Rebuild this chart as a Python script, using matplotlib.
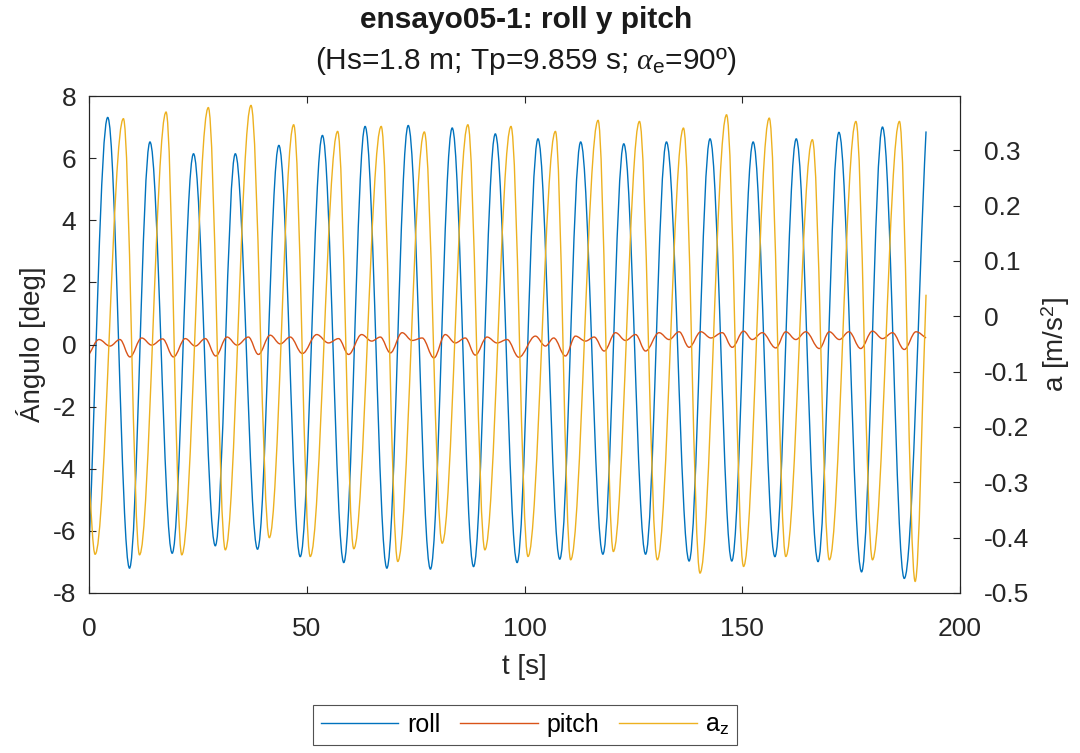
import matplotlib.pyplot as plt
from matplotlib.path import Path
from matplotlib.patches import PathPatch
from matplotlib.lines import Line2D

plt.rcParams['font.family'] = ['Liberation Sans', 'DejaVu Sans']
plt.rcParams['mathtext.fontset'] = 'custom'
plt.rcParams['mathtext.rm'] = 'Liberation Sans'
plt.rcParams['mathtext.it'] = 'Liberation Serif:italic'
plt.rcParams['axes.unicode_minus'] = False

# roll: turning points (t [s], deg)
roll_t = [0, 4.3, 9.3, 14.0, 19.1, 24.0, 29.0, 33.6, 38.7, 43.6,
          48.5, 53.6, 58.5, 63.4, 68.4, 73.3, 78.4, 83.4, 88.3, 93.3,
          98.3, 103.1, 108.1, 112.9, 118.0, 122.8, 127.8, 132.6, 137.8, 142.6,
          147.6, 152.5, 157.5, 162.4, 167.4, 172.2, 177.4, 182.2, 187.2, 192.2]
roll_v = [-6.5, 7.31, -7.2, 6.52, -6.72, 6.14, -6.48, 6.14, -6.59, 6.41,
          -6.83, 6.73, -7.02, 7.02, -7.2, 7.05, -7.23, 6.97, -7.15, 6.78,
          -7.02, 6.62, -6.91, 6.52, -6.75, 6.46, -6.75, 6.52, -6.97, 6.62,
          -6.97, 6.52, -6.83, 6.62, -6.99, 6.83, -7.32, 7.0, -7.53, 6.86]

# pitch (deg)
pitch_t = [0, 2.3, 4.8, 7.1, 9.4, 12.1, 14.4, 16.9, 19.4, 22.1,
           24.4, 26.7, 29.1, 31.7, 34.0, 36.6, 38.9, 41.6, 43.9, 46.2,
           49.0, 52.3, 55.0, 57.3, 59.6, 62.6, 64.9, 66.9, 69.2, 71.9,
           74.2, 76.5, 79.2, 81.8, 84.1, 86.4, 88.7, 91.4, 93.7, 96.0,
           98.7, 102.5, 104.8, 106.7, 109.4, 111.7, 114.0, 116.0, 118.3, 120.9,
           123.2, 125.5, 127.8, 130.9, 133.2, 135.5, 137.8, 140.5, 142.8, 145.4,
           147.7, 150.3, 152.3, 154.6, 157.7, 160.0, 162.3, 164.6, 167.7, 170.0,
           172.3, 174.5, 177.2, 179.9, 182.2, 184.5, 187.2, 189.9, 192.2]
pitch_v = [-0.32, 0.16, -0.05, 0.16, -0.40, 0.21, -0.02, 0.18, -0.40, 0.19,
           -0.05, 0.19, -0.37, 0.24, -0.02, 0.24, -0.32, 0.30, 0.02, 0.24,
           -0.29, 0.32, 0.05, 0.19, -0.32, 0.32, 0.11, 0.24, -0.27, 0.38,
           0.13, 0.21, -0.43, 0.32, 0.05, 0.21, -0.34, 0.24, 0.05, 0.16,
           -0.41, 0.27, -0.05, 0.21, -0.37, 0.27, 0.11, 0.24, -0.21, 0.38,
           0.13, 0.32, -0.21, 0.38, 0.16, 0.41, -0.09, 0.41, 0.21, 0.38,
           -0.09, 0.43, 0.16, 0.38, -0.11, 0.41, 0.16, 0.41, -0.13, 0.41,
           0.16, 0.41, -0.13, 0.43, 0.19, 0.38, -0.16, 0.41, 0.21]

# vertical acceleration (m/s^2)
az_t = [0, 1.4, 7.9, 11.6, 17.7, 21.3, 27.4, 31.3, 37.2, 41.4,
        47.0, 50.8, 57.1, 60.8, 67.1, 70.9, 77.0, 81.1, 87.0, 90.9,
        96.9, 100.8, 107.1, 110.6, 116.9, 120.4, 126.4, 130.5, 136.5, 140.3,
        146.4, 150.3, 156.2, 160.0, 166.1, 170.0, 176.1, 179.9, 186.1, 189.7, 192.2]
az_v = [-0.30, -0.43, 0.357, -0.431, 0.369, -0.431, 0.377, -0.422, 0.381, -0.40,
        0.346, -0.434, 0.334, -0.42, 0.343, -0.443, 0.333, -0.41, 0.346, -0.422,
        0.343, -0.434, 0.334, -0.44, 0.354, -0.425, 0.352, -0.44, 0.34, -0.464,
        0.364, -0.452, 0.358, -0.434, 0.319, -0.44, 0.352, -0.44, 0.352, -0.479, 0.039]

x_ticks = [0, 50, 100, 150, 200]
left_ticks = [-8, -6, -4, -2, 0, 2, 4, 6, 8]
right_ticks = [-0.5, -0.4, -0.3, -0.2, -0.1, 0, 0.1, 0.2, 0.3]
right_labels = ['-0.5', '-0.4', '-0.3', '-0.2', '-0.1', '0', '0.1', '0.2', '0.3']

c_roll = '#0072BD'
c_pitch = '#D95319'
c_az = '#EDB120'
axc = '#262626'


def wave(ts, vs):
    # smooth curve through turning points (horizontal tangent at each extreme)
    k = 0.3642
    n = len(ts)
    verts = [(ts[0], vs[0])]
    codes = [Path.MOVETO]
    for i in range(n - 1):
        t0, v0, t1, v1 = ts[i], vs[i], ts[i + 1], vs[i + 1]
        dt = t1 - t0
        if i == 0:
            c1 = (t0 + k * dt, v0 + k * (v1 - v0))
        else:
            c1 = (t0 + k * dt, v0)
        if i == n - 2:
            c2 = (t1 - k * dt, v1 - k * (v1 - v0))
        else:
            c2 = (t1 - k * dt, v1)
        verts += [c1, c2, (t1, v1)]
        codes += [Path.CURVE4] * 3
    return Path(verts, codes)


fig = plt.figure(figsize=(10.8, 7.53), dpi=100)
ax = fig.add_axes([89 / 1080, 1 - 593 / 753, 871 / 1080, 497 / 753])
ax2 = ax.twinx()

ax.add_patch(PathPatch(wave(roll_t, roll_v), fc='none', ec=c_roll, lw=1.0))
ax.add_patch(PathPatch(wave(pitch_t, pitch_v), fc='none', ec=c_pitch, lw=1.0))
ax2.add_patch(PathPatch(wave(az_t, az_v), fc='none', ec=c_az, lw=1.0))

ax.set_xlim(0, 200)
ax.set_ylim(-8, 8)
ax2.set_ylim(-0.5, 0.398)
ax.set_xticks(x_ticks)
ax.set_yticks(left_ticks)
ax2.set_yticks(right_ticks)
ax2.set_yticklabels(right_labels)

ax.tick_params(axis='both', direction='in', length=5, width=0.8, colors=axc,
               labelcolor='#262626', labelsize=19, top=True, right=False)
ax.tick_params(axis='x', pad=17)
ax.tick_params(axis='y', pad=9)
ax2.tick_params(axis='y', direction='in', length=5, width=0.8, colors=axc,
                labelcolor='#262626', labelsize=19, pad=17)
for a in (ax, ax2):
    for s in a.spines.values():
        s.set_color(axc)
        s.set_linewidth(0.8)

ax.set_xlabel('t [s]', fontsize=20, color='#262626', labelpad=10)
ax.set_ylabel('Ángulo [deg]', fontsize=20, color='#262626', labelpad=5)
ax2.set_ylabel('a [m/s$^2$]', fontsize=20, color='#262626', rotation=90, labelpad=8)

fig.text(526 / 1080, 1 - 20 / 753, 'ensayo05-1: roll y pitch', ha='center', va='center',
         fontsize=21.5, fontweight='bold', color='#1a1a1a')
fig.text(526 / 1080, 1 - 61 / 753, '(Hs=1.8 m; Tp=9.859 s; $\\alpha_{\\mathrm{e}}$=90º)',
         ha='center', va='center', fontsize=21.5, color='#1a1a1a')

handles = [Line2D([], [], color=c_roll, lw=1.0),
           Line2D([], [], color=c_pitch, lw=1.0),
           Line2D([], [], color=c_az, lw=1.0)]
leg = fig.legend(handles, ['roll', 'pitch', 'a$_\\mathrm{z}$'], loc='center',
                 bbox_to_anchor=(525 / 1080, 1 - 725 / 753), ncol=3, fontsize=18,
                 frameon=True, fancybox=False, edgecolor=axc, handlelength=3.1,
                 handletextpad=0.35, columnspacing=0.8, borderpad=0.3)
leg.get_frame().set_linewidth(0.8)

fig.savefig('out.png', dpi=100)
